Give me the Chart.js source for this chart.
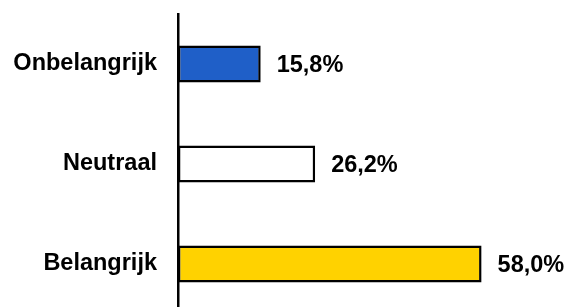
<!DOCTYPE html>
<html lang="nl">
<head>
    <meta charset="UTF-8">
    <title>Belang</title>
    <script src="https://cdn.jsdelivr.net/npm/chart.js"></script>
    <style>
        html, body { margin: 0; padding: 0; overflow: hidden; background: #fff; }
        canvas { display: block; }
    </style>
</head>
<body>
    <canvas id="belangChart" width="566" height="314"></canvas>

    <script>
        // data uit de grafiek
        const categories = ['Onbelangrijk', 'Neutraal', 'Belangrijk'];
        const percentages = [15.8, 26.2, 58.0];
        const barColors = ['#1f5fc8', '#ffffff', '#ffd200'];

        const fontFamily = '"Liberation Sans", Arial, sans-serif';

        // labels met waarde rechts naast de balken
        const valueLabels = {
            id: 'valueLabels',
            afterDatasetsDraw(chart) {
                const ctx = chart.ctx;
                const meta = chart.getDatasetMeta(0);
                ctx.save();
                ctx.font = 'bold 23.5px ' + fontFamily;
                ctx.fillStyle = '#000';
                ctx.textAlign = 'left';
                ctx.textBaseline = 'middle';
                meta.data.forEach((bar, i) => {
                    const txt = percentages[i].toFixed(1).replace('.', ',') + '%';
                    ctx.fillText(txt, bar.x + 16, bar.y + 2);
                });
                ctx.restore();
            }
        };

        const ctx = document.getElementById('belangChart').getContext('2d');
        const myChart = new Chart(ctx, {
            type: 'bar',
            data: {
                labels: categories,
                datasets: [{
                    data: percentages,
                    backgroundColor: barColors,
                    borderColor: '#000',
                    borderWidth: 2.5,
                    borderSkipped: false,
                    categoryPercentage: 0.37,
                    barPercentage: 1
                }]
            },
            options: {
                indexAxis: 'y',
                responsive: false,
                animation: false,
                layout: { padding: { top: 14, right: 75, bottom: 0, left: 0 } },
                plugins: {
                    legend: { display: false },
                    tooltip: { enabled: false }
                },
                scales: {
                    x: {
                        display: false,
                        min: 0,
                        max: 59.8
                    },
                    y: {
                        grid: { display: false, drawTicks: false },
                        border: { display: true, color: '#000', width: 2.5 },
                        ticks: {
                            color: '#000',
                            padding: 21,
                            font: { family: fontFamily, size: 23.5, weight: 'bold' }
                        },
                        afterFit(scale) {
                            scale.width = 178;
                            scale.paddingTop = 0;
                            scale.paddingBottom = 0;
                        }
                    }
                }
            },
            plugins: [valueLabels]
        });
    </script>
</body>
</html>
